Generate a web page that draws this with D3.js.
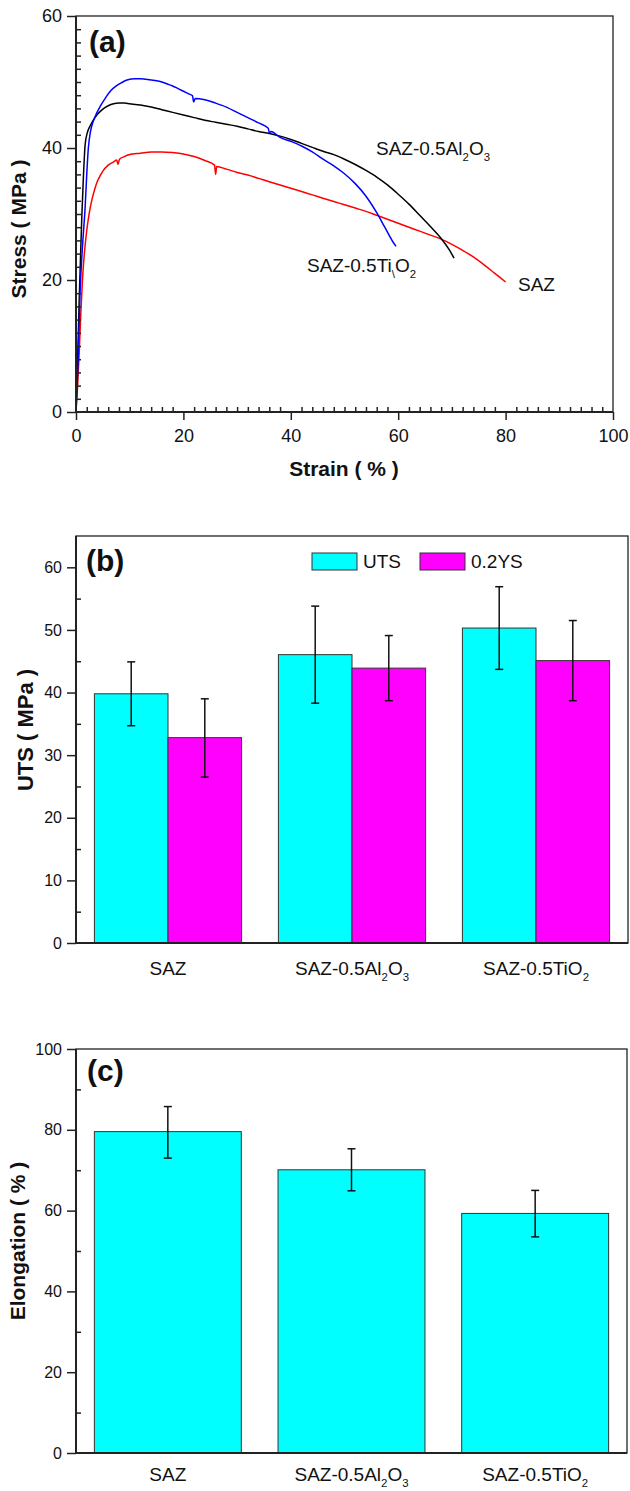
<!DOCTYPE html>
<html>
<head>
<meta charset="utf-8">
<script src="https://cdn.jsdelivr.net/npm/d3@7"></script>
<style>
body { margin: 0; background: #fff; }
svg { display: block; }
text { font-family: Arial, "Liberation Sans", sans-serif; fill: #111; }
</style>
</head>
<body>
<svg width="630" height="1491"></svg>
<script>
// (a) stress-strain curves: [strain %, stress MPa]
var curveSAZ = [
  [0, 0], [0.3, 4], [0.6, 9], [0.9, 15], [1.2, 20], [1.5, 23.5], [2, 27.5], [2.5, 30.3],
  [3, 32.3], [3.5, 33.8], [4, 35], [4.5, 35.8], [5, 36.5], [6, 37.4], [7, 37.9], [7.6, 38.2],
  [7.8, 37.5], [8.1, 38.3], [9, 38.7], [10, 39.0], [12, 39.2], [14, 39.4], [16, 39.4], [18, 39.3],
  [20, 39.1], [22, 38.7], [24, 38.1], [25.8, 37.4], [26, 36.0], [26.2, 37.2], [28, 36.8], [30, 36.3],
  [32, 35.9], [34, 35.4], [36, 34.9], [38, 34.4], [40, 33.9], [42, 33.4], [44, 32.9], [46, 32.4],
  [48, 31.9], [50, 31.4], [52, 30.9], [54, 30.4], [56, 29.8], [58, 29.2], [60, 28.6], [62, 28.0],
  [64, 27.4], [66, 26.8], [68, 26.2], [70, 25.4], [72, 24.5], [74, 23.5], [76, 22.3], [78, 21.0], [80, 19.7]
];
var curveAl = [
  [0, 0], [0.3, 8], [0.6, 17], [0.9, 25], [1.1, 30], [1.4, 36], [1.7, 40.5], [2.1, 42.3],
  [2.6, 43.3], [3.2, 44.2], [4, 45.1], [5, 45.9], [6, 46.4], [7, 46.7], [8, 46.8], [9, 46.8],
  [10, 46.7], [12, 46.5], [14, 46.2], [16, 45.8], [18, 45.4], [20, 45.0], [22, 44.6], [24, 44.2],
  [26, 43.9], [28, 43.6], [30, 43.3], [32, 42.9], [34, 42.5], [36, 42.2], [38, 41.8], [40, 41.3],
  [42, 40.7], [44, 40.1], [46, 39.5], [48, 39.0], [50, 38.3], [52, 37.5], [54, 36.6], [56, 35.6],
  [58, 34.4], [60, 33.0], [62, 31.5], [64, 29.8], [66, 28.1], [68, 26.3], [69.5, 24.6], [70.4, 23.3]
];
var curveTi = [
  [0, 0], [0.4, 8], [0.75, 18], [1.2, 25], [1.7, 31], [2.0, 36], [2.3, 40], [2.7, 42.5],
  [3.2, 44], [3.8, 45.2], [4.5, 46.3], [5.5, 47.6], [6.5, 48.7], [7.5, 49.4], [8.5, 49.9], [9.5, 50.3],
  [11, 50.5], [12, 50.5], [13, 50.4], [14, 50.3], [15, 50.2], [16, 50.0], [17, 49.7], [18, 49.4],
  [19, 49.0], [20, 48.6], [21, 48.2], [21.7, 47.9], [21.9, 47.0], [22.2, 47.5], [24, 47.3], [26, 46.8],
  [28, 46.2], [30, 45.4], [32, 44.6], [34, 43.8], [35.8, 43.0], [36, 42.3], [36.3, 42.5], [38, 41.6],
  [40, 41.0], [42, 40.3], [44, 39.4], [46, 38.3], [48, 37.3], [50, 36.1], [52, 34.6], [54, 32.7],
  [56, 30.2], [57.5, 28.0], [59, 25.8], [59.6, 25.1]
];
var curveNames = ['SAZ', 'SAZ-0.5Al_2O_3', 'SAZ-0.5Ti_\\O_2'];

// (b) and (c) bars
var groups = ['SAZ', 'SAZ-0.5Al_2O_3', 'SAZ-0.5TiO_2'];
var uts = [39.8, 46.05, 50.3];
var utsLow = [34.7, 38.3, 43.7];
var utsHigh = [44.9, 53.8, 56.9];
var ys = [32.8, 43.9, 45.1];
var ysLow = [26.5, 38.7, 38.7];
var ysHigh = [39.0, 49.1, 51.5];
var seriesNames = ['UTS', '0.2YS'];
var elong = [79.55, 70.1, 59.3];
var elongLow = [73.0, 64.9, 53.5];
var elongHigh = [85.75, 75.3, 65.0];

// ticks
var aTicksX = [0, 20, 40, 60, 80, 100];
var aTicksY = [0, 20, 40, 60];
var bTicksY = [0, 10, 20, 30, 40, 50, 60];
var cTicksY = [0, 20, 40, 60, 80, 100];

var svg = d3.select('svg');

// text with "_x" meaning subscript x
function rich(t, str, size) {
  var parts = str.split(/(_.)/).filter(function (s) { return s.length; });
  var down = false;
  parts.forEach(function (p) {
    if (p[0] === '_') {
      t.append('tspan').attr('font-size', size * 0.6).attr('dy', size * 0.33).text(p[1]);
      down = true;
    } else {
      t.append('tspan').attr('dy', down ? -size * 0.33 : 0).text(p);
      down = false;
    }
  });
  return t;
}

function styleAxis(g, size) {
  g.selectAll('.domain').remove();
  g.selectAll('line').attr('stroke', '#222').attr('stroke-width', 1.5);
  g.selectAll('text').attr('font-size', size).attr('fill', '#111')
   .attr('font-family', 'Arial, "Liberation Sans", sans-serif');
}

function frame(x0, x1, y0, y1) {
  svg.append('rect').attr('x', x0).attr('y', y0).attr('width', x1 - x0).attr('height', y1 - y0)
     .attr('fill', 'none').attr('stroke', '#222').attr('stroke-width', 1.3);
  svg.append('line').attr('x1', x0).attr('y1', y0).attr('x2', x0).attr('y2', y1)
     .attr('stroke', '#222').attr('stroke-width', 2);
  svg.append('line').attr('x1', x0).attr('y1', y1).attr('x2', x1).attr('y2', y1)
     .attr('stroke', '#222').attr('stroke-width', 2);
}

function minor(vals, majors) {
  return vals.filter(function (v) { return majors.indexOf(v) < 0; });
}

// ---------- panel (a)
var ax = d3.scaleLinear().domain([0, 100]).range([76, 613]);
var ay = d3.scaleLinear().domain([0, 60]).range([412, 16]);

var line = d3.line().curve(d3.curveMonotoneX)
  .x(function (d) { return ax(d[0]); }).y(function (d) { return ay(d[1]); });
svg.append('path').datum(curveSAZ).attr('d', line).attr('fill', 'none').attr('stroke', '#ff0000').attr('stroke-width', 1.5);
svg.append('path').datum(curveAl).attr('d', line).attr('fill', 'none').attr('stroke', '#000000').attr('stroke-width', 1.5);
svg.append('path').datum(curveTi).attr('d', line).attr('fill', 'none').attr('stroke', '#0000ff').attr('stroke-width', 1.5);

frame(76, 613, 16, 412);

var g = svg.append('g').attr('transform', 'translate(76,0)')
  .call(d3.axisLeft(ay).tickValues(aTicksY).tickSize(9).tickPadding(5));
styleAxis(g, 18);
g = svg.append('g').attr('transform', 'translate(76,0)')
  .call(d3.axisLeft(ay).tickValues(minor(d3.range(0, 61, 2), aTicksY)).tickSize(-5).tickFormat(''));
styleAxis(g, 18);
g = svg.append('g').attr('transform', 'translate(0,412)')
  .call(d3.axisBottom(ax).tickValues(aTicksX).tickSize(8).tickPadding(9));
styleAxis(g, 18);
g = svg.append('g').attr('transform', 'translate(0,412)')
  .call(d3.axisBottom(ax).tickValues(minor(d3.range(0, 101, 2), aTicksX)).tickSize(-5).tickFormat(''));
styleAxis(g, 18);

svg.append('text').attr('x', 89).attr('y', 52).attr('font-size', 30).attr('font-weight', 'bold').text('(a)');
svg.append('text').attr('x', 344).attr('y', 476).attr('text-anchor', 'middle')
   .attr('font-size', 21).attr('font-weight', 'bold').text('Strain ( % )');
svg.append('text').attr('transform', 'translate(26,229) rotate(-90)').attr('text-anchor', 'middle')
   .attr('font-size', 21).attr('font-weight', 'bold').text('Stress ( MPa )');

rich(svg.append('text').attr('x', 518).attr('y', 291).attr('font-size', 19), curveNames[0], 19);
rich(svg.append('text').attr('x', 376).attr('y', 155).attr('font-size', 19), curveNames[1], 19);
rich(svg.append('text').attr('x', 307).attr('y', 272).attr('font-size', 19), curveNames[2], 19);

// ---------- panel (b)
var bx = d3.scaleBand().domain(groups).range([76, 628]).paddingInner(0.2).paddingOuter(0.1);
var bx1 = d3.scaleBand().domain(seriesNames).range([0, bx.bandwidth()]);
var by = d3.scaleLinear().domain([0, 65]).range([943, 536]);
var colors = ['#00ffff', '#ff00ff'];
var bVals = [uts, ys];
var bLow = [utsLow, ysLow];
var bHigh = [utsHigh, ysHigh];

for (var s = 0; s < 2; s++) {
  for (var i = 0; i < groups.length; i++) {
    var x = bx(groups[i]) + bx1(seriesNames[s]);
    svg.append('rect').attr('x', x).attr('y', by(bVals[s][i]))
       .attr('width', bx1.bandwidth()).attr('height', by(0) - by(bVals[s][i]))
       .attr('fill', colors[s]).attr('stroke', '#333').attr('stroke-width', 1);
    var cx = x + bx1.bandwidth() / 2;
    svg.append('line').attr('x1', cx).attr('x2', cx).attr('y1', by(bLow[s][i])).attr('y2', by(bHigh[s][i]))
       .attr('stroke', '#111').attr('stroke-width', 1.5);
    [bLow[s][i], bHigh[s][i]].forEach(function (v) {
      svg.append('line').attr('x1', cx - 4).attr('x2', cx + 4).attr('y1', by(v)).attr('y2', by(v))
         .attr('stroke', '#111').attr('stroke-width', 1.5);
    });
  }
}

frame(76, 628, 536, 943);
g = svg.append('g').attr('transform', 'translate(76,0)')
  .call(d3.axisLeft(by).tickValues(bTicksY).tickSize(9).tickPadding(5));
styleAxis(g, 16);
g = svg.append('g').attr('transform', 'translate(76,0)')
  .call(d3.axisLeft(by).tickValues(minor(d3.range(0, 61, 5), bTicksY)).tickSize(-5).tickFormat(''));
styleAxis(g, 16);

groups.forEach(function (name) {
  rich(svg.append('text').attr('x', bx(name) + bx.bandwidth() / 2).attr('y', 975)
       .attr('text-anchor', 'middle').attr('font-size', 19), name, 19);
});

svg.append('text').attr('x', 86).attr('y', 571).attr('font-size', 30).attr('font-weight', 'bold').text('(b)');
svg.append('text').attr('transform', 'translate(33,730) rotate(-90)').attr('text-anchor', 'middle')
   .attr('font-size', 22).attr('font-weight', 'bold').text('UTS ( MPa )');

var legX = [312, 420];
for (var s = 0; s < 2; s++) {
  svg.append('rect').attr('x', legX[s]).attr('y', 553).attr('width', 45).attr('height', 17)
     .attr('fill', colors[s]).attr('stroke', '#333').attr('stroke-width', 1);
  svg.append('text').attr('x', legX[s] + 51).attr('y', 568).attr('font-size', 19).text(seriesNames[s]);
}

// ---------- panel (c)
var cx0 = d3.scaleBand().domain(groups).range([76, 627]).paddingInner(0.2).paddingOuter(0.1);
var cy = d3.scaleLinear().domain([0, 100]).range([1453, 1049]);

for (var i = 0; i < groups.length; i++) {
  var x = cx0(groups[i]);
  svg.append('rect').attr('x', x).attr('y', cy(elong[i]))
     .attr('width', cx0.bandwidth()).attr('height', cy(0) - cy(elong[i]))
     .attr('fill', '#00ffff').attr('stroke', '#333').attr('stroke-width', 1);
  var mx = x + cx0.bandwidth() / 2;
  svg.append('line').attr('x1', mx).attr('x2', mx).attr('y1', cy(elongLow[i])).attr('y2', cy(elongHigh[i]))
     .attr('stroke', '#111').attr('stroke-width', 1.5);
  [elongLow[i], elongHigh[i]].forEach(function (v) {
    svg.append('line').attr('x1', mx - 4).attr('x2', mx + 4).attr('y1', cy(v)).attr('y2', cy(v))
       .attr('stroke', '#111').attr('stroke-width', 1.5);
  });
}

frame(76, 627, 1049, 1453);
g = svg.append('g').attr('transform', 'translate(76,0)')
  .call(d3.axisLeft(cy).tickValues(cTicksY).tickSize(9).tickPadding(5));
styleAxis(g, 16);
g = svg.append('g').attr('transform', 'translate(76,0)')
  .call(d3.axisLeft(cy).tickValues(minor(d3.range(0, 101, 10), cTicksY)).tickSize(-5).tickFormat(''));
styleAxis(g, 16);

groups.forEach(function (name) {
  rich(svg.append('text').attr('x', cx0(name) + cx0.bandwidth() / 2).attr('y', 1481)
       .attr('text-anchor', 'middle').attr('font-size', 19), name, 19);
});

svg.append('text').attr('x', 87).attr('y', 1081).attr('font-size', 30).attr('font-weight', 'bold').text('(c)');
svg.append('text').attr('transform', 'translate(25,1241) rotate(-90)').attr('text-anchor', 'middle')
   .attr('font-size', 21).attr('font-weight', 'bold').text('Elongation ( % )');
</script>
</body>
</html>
